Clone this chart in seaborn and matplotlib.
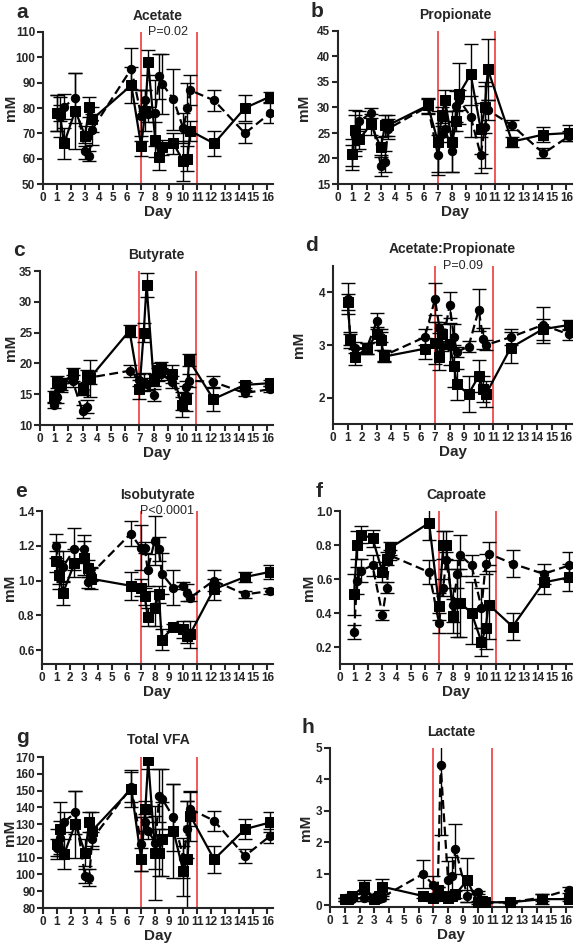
import numpy as np
import pandas as pd
import matplotlib
matplotlib.use("Agg")
import matplotlib.pyplot as plt
import seaborn as sns

# Sampling days shared by every panel
days = [1.0, 1.2, 1.5, 2.3, 3.0, 3.3, 3.5, 6.3, 7.0, 7.3, 7.5, 8.0, 8.3, 8.5,
        9.3, 10.0, 10.3, 10.5, 12.2, 14.4, 16.2]

# a - Acetate
acetate_sq = [78, 78, 66, 79, 69, 80.5, 75.5, 89, 65, 79, 98, 67.5, 60.5, 64.5, 66, 59, 60, 71, 66, 80, 84.5]
acetate_sq_err = [7, 3, 6, 15, 4, 4, 5, 7, 4, 8, 5, 7, 5, 3, 4, 8, 5, 4, 5, 5, 2]
acetate_ci = [78, 76.5, 80.5, 84, 63, 61, 71.5, 95.5, 77, 83, 77.5, 78, 92.5, 89.5, 83.5, 72, 80, 87, 83, 70, 78]
acetate_ci_err = [7, 8, 5, 10, 3, 2, 6, 8, 10, 4, 3, 13, 9, 12, 12, 6, 10, 6, 4, 4, 4]

# b - Propionate
propionate_sq = [20.8, 25.5, 23.8, 26.7, 22.2, 26.5, 26.5, 30.4, 23.3, 28.5, 31.4, 23.3, 27.3, 32.7, 36.5, 25.8, 30.0, 37.5, 23.3, 24.7, 25.0]
propionate_sq_err = [3, 4, 2, 2, 2, 2, 2, 1.5, 6, 1.5, 2, 6, 2, 6, 6, 5, 5, 6, 1, 1.5, 1.5]
propionate_ci = [20.6, 24.5, 27.3, 28.9, 18.6, 19.4, 25.8, 30.2, 20.7, 24.8, 25.8, 21.4, 30.2, 31.5, 28.2, 20.7, 26.2, 29.5, 26.5, 21.0, 24.4]
propionate_ci_err = [2, 4, 2, 1, 2, 2, 2, 1.5, 4, 1.5, 1.5, 4, 3, 2, 4, 3.5, 8, 2, 1, 1, 1]

# c - Butyrate
butyrate_sq = [14.6, 17.0, 16.7, 18.2, 15.8, 18.0, 17.6, 25.3, 15.8, 25.0, 32.7, 17.3, 19.0, 19.3, 18.3, 13.3, 14.3, 20.5, 14.2, 16.5, 16.8]
butyrate_sq_err = [1, 1, 1, 1, 1, 1, 3, 1, 1.5, 1.5, 2, 1, 1, 1, 1.5, 2, 2, 1, 2, 0.5, 0.5]
butyrate_ci = [13.2, 14.6, 16.3, 17.1, 12.2, 13.0, 17.7, 18.8, 17.3, 17.0, 16.7, 14.9, 18.2, 18.3, 17.0, 13.5, 16.2, 17.2, 17.0, 15.2, 15.8]
butyrate_ci_err = [0.5, 1, 1, 1, 1, 1, 1, 1, 1, 1.5, 1, 1, 1, 1, 1, 1, 1, 1, 1, 0.5, 0.5]

# d - Acetate:Propionate
ratio_sq = [3.82, 3.1, 2.77, 2.93, 3.2, 3.1, 2.78, 2.93, 3.03, 2.78, 3.2, 3.02, 2.6, 2.25, 2.07, 2.41, 2.17, 2.07, 2.95, 3.3, 3.38]
ratio_sq_err = [0.15, 0.15, 0.15, 0.1, 0.15, 0.2, 0.1, 0.2, 0.4, 0.25, 0.2, 0.4, 0.4, 0.3, 0.35, 0.3, 0.25, 0.25, 0.3, 0.2, 0.1]
ratio_ci = [3.88, 3.1, 2.95, 2.93, 3.45, 3.15, 2.8, 3.15, 3.87, 3.33, 2.98, 3.76, 3.15, 2.87, 2.97, 3.67, 3.12, 3.0, 3.15, 3.38, 3.2]
ratio_ci_err = [0.3, 0.1, 0.1, 0.1, 0.15, 0.1, 0.1, 0.15, 0.3, 0.1, 0.1, 0.25, 0.25, 0.1, 0.1, 0.4, 0.2, 0.1, 0.15, 0.35, 0.1]

# e - Isobutyrate
isobut_sq = [1.11, 1.03, 0.93, 1.1, 1.13, 1.07, 1.01, 0.97, 0.96, 0.91, 0.79, 0.84, 0.92, 0.66, 0.73, 0.72, 0.68, 0.69, 0.95, 1.02, 1.05]
isobut_sq_err = [0.06, 0.08, 0.07, 0.08, 0.1, 0.05, 0.06, 0.08, 0.05, 0.05, 0.05, 0.1, 0.05, 0.06, 0.02, 0.05, 0.04, 0.08, 0.06, 0.03, 0.04]
isobut_ci = [1.2, 1.1, 1.08, 1.18, 1.18, 0.99, 1.04, 1.27, 1.19, 1.19, 1.06, 1.23, 1.18, 1.04, 0.96, 0.97, 0.93, 0.9, 1.0, 0.92, 0.94]
isobut_ci_err = [0.07, 0.12, 0.09, 0.12, 0.08, 0.03, 0.04, 0.07, 0.13, 0.03, 0.09, 0.14, 0.07, 0.12, 0.1, 0.02, 0.05, 0.02, 0.06, 0.02, 0.02]

# f - Caproate
caproate_sq = [0.51, 0.8, 0.86, 0.84, 0.64, 0.72, 0.78, 0.93, 0.44, 0.8, 0.8, 0.38, 0.46, 0.46, 0.4, 0.23, 0.31, 0.45, 0.32, 0.58, 0.61]
caproate_sq_err = [0.12, 0.08, 0.05, 0.05, 0.06, 0.04, 0.04, 0.1, 0.08, 0.08, 0.08, 0.1, 0.2, 0.2, 0.18, 0.08, 0.12, 0.2, 0.08, 0.07, 0.08]
caproate_ci = [0.29, 0.59, 0.65, 0.68, 0.39, 0.55, 0.74, 0.64, 0.34, 0.55, 0.71, 0.45, 0.63, 0.74, 0.68, 0.43, 0.69, 0.75, 0.69, 0.63, 0.68]
caproate_ci_err = [0.04, 0.08, 0.07, 0.06, 0.03, 0.03, 0.03, 0.07, 0.06, 0.05, 0.05, 0.1, 0.08, 0.12, 0.06, 0.12, 0.06, 0.07, 0.08, 0.06, 0.08]

# g - Total VFA
vfa_sq = [118, 127, 112, 130, 113, 131, 126, 151, 109, 139, 168, 113, 113, 121, 126, 102, 109, 135, 109, 127, 131]
vfa_sq_err = [9, 16, 9, 20, 8, 6, 11, 11, 7, 5, 5, 28, 14, 22, 28, 15, 35, 15, 8, 6, 6]
vfa_ci = [116, 122, 131, 137, 99, 98, 121, 152, 118, 131, 126, 119, 147, 145, 134, 110, 127, 139, 132, 111, 123]
vfa_ci_err = [5, 10, 6, 13, 4, 5, 4, 9, 16, 5, 5, 16, 16, 18, 20, 12, 17, 10, 6, 4, 4]

# h - Lactate
lactate_sq = [0.2, 0.2, 0.3, 0.6, 0.2, 0.3, 0.6, 0.3, 0.25, 0.5, 0.3, 0.25, 0.3, 0.35, 0.8, 0.1, 0.15, 0.1, 0.1, 0.2, 0.2]
lactate_sq_err = [0.05, 0.05, 0.05, 0.2, 0.05, 0.1, 0.25, 0.05, 0.1, 0.1, 0.1, 0.05, 0.1, 0.1, 0.7, 0.05, 0.05, 0.02, 0.02, 0.15, 0.05]
lactate_ci = [0.2, 0.25, 0.2, 0.25, 0.25, 0.2, 0.25, 1.0, 0.65, 0.5, 4.45, 0.8, 0.95, 1.8, 0.3, 0.42, 0.15, 0.1, 0.1, 0.25, 0.5]
lactate_ci_err = [0.05, 0.05, 0.05, 0.1, 0.05, 0.05, 0.05, 0.45, 0.3, 0.1, 2.2, 0.6, 0.6, 0.8, 0.2, 0.05, 0.05, 0.02, 0.02, 0.1, 0.1]

titles = ["Acetate", "Propionate", "Butyrate", "Acetate:Propionate",
          "Isobutyrate", "Caproate", "Total VFA", "Lactate"]
letters = ["a", "b", "c", "d", "e", "f", "g", "h"]
p_values = ["P=0.02", None, None, "P=0.09", "P<0.0001", None, None, None]

sns.set_style("ticks")
plt.rcParams['font.family'] = ['Liberation Sans', 'DejaVu Sans']

fig = plt.figure(figsize=(5.74, 9.47), dpi=100)

W, H = 574, 947
# pixel boxes (left, top, right, bottom) and right edge of the "mM" label
boxes = [(43, 32, 273, 184), (338, 31, 572, 184),
         (40, 271, 273, 425), (333, 266, 572, 424),
         (42, 511, 273, 664), (340, 511, 572, 664),
         (43, 757, 273, 908), (330, 748, 572, 907)]
ylabel_x = [18, 311, 18, 306, 17, 316, 17, 313]

panels = [
    (acetate_sq, acetate_sq_err, acetate_ci, acetate_ci_err, (50, 110), np.arange(50, 111, 10), "{:.0f}"),
    (propionate_sq, propionate_sq_err, propionate_ci, propionate_ci_err, (15, 45), np.arange(15, 46, 5), "{:.0f}"),
    (butyrate_sq, butyrate_sq_err, butyrate_ci, butyrate_ci_err, (10, 35), np.arange(10, 36, 5), "{:.0f}"),
    (ratio_sq, ratio_sq_err, ratio_ci, ratio_ci_err, (1.5, 4.5), [2, 3, 4], "{:.0f}"),
    (isobut_sq, isobut_sq_err, isobut_ci, isobut_ci_err, (0.52, 1.4), [0.6, 0.8, 1.0, 1.2, 1.4], "{:.1f}"),
    (caproate_sq, caproate_sq_err, caproate_ci, caproate_ci_err, (0.1, 1.0), [0.2, 0.4, 0.6, 0.8, 1.0], "{:.1f}"),
    (vfa_sq, vfa_sq_err, vfa_ci, vfa_ci_err, (80, 170), np.arange(80, 171, 10), "{:.0f}"),
    (lactate_sq, lactate_sq_err, lactate_ci, lactate_ci_err, (-0.05, 5), [0, 1, 2, 3, 4, 5], "{:.0f}"),
]

for i, (sq, sq_err, ci, ci_err, ylim, yticks, fmt) in enumerate(panels):
    l, t, r, b = boxes[i]
    ax = fig.add_axes([l / W, 1 - b / H, (r - l) / W, (b - t) / H])

    ax.errorbar(days, sq, yerr=sq_err, fmt='none', ecolor='black',
                elinewidth=1, capsize=5, capthick=1, zorder=2)
    ax.errorbar(days, ci, yerr=ci_err, fmt='none', ecolor='black',
                elinewidth=1, capsize=5, capthick=1, zorder=2)
    sns.lineplot(x=days, y=sq, ax=ax, color='black', marker='s', markersize=6.5,
                 markeredgecolor='black', linewidth=1.6, zorder=3)
    sns.lineplot(x=days, y=ci, ax=ax, color='black', marker='o', markersize=6,
                 markeredgecolor='black', linewidth=1.6, linestyle=(0, (4, 2)), zorder=3)

    for xv in [7, 11]:
        ax.axvline(xv, color='#f04a4a', linewidth=1.3, zorder=1)

    ax.set_xlim(0, 16.4)
    ax.set_ylim(*ylim)
    ax.set_xticks(range(0, 17))
    ax.set_xticklabels([str(d) for d in range(0, 17)], fontsize=8.5, fontweight='bold')
    ax.set_yticks(yticks)
    ax.set_yticklabels([fmt.format(v) for v in yticks], fontsize=8.5, fontweight='bold')
    ax.set_xlabel("Day", fontsize=11, fontweight='bold', labelpad=1)
    ax.set_ylabel("mM", fontsize=11, fontweight='bold')
    ax.yaxis.set_label_coords((ylabel_x[i] - l) / (r - l), 0.5)
    ax.set_title(titles[i], fontsize=10, fontweight='bold', pad=9)
    ax.text(-0.09, 1.13, letters[i], transform=ax.transAxes, fontsize=15,
            fontweight='bold', ha='center', va='center')
    if p_values[i]:
        ax.text(8.9, ylim[1], p_values[i], fontsize=9, ha='center', va='center',
                transform=ax.transData)

    for side in ['top', 'right']:
        ax.spines[side].set_visible(False)
    for side in ['left', 'bottom']:
        ax.spines[side].set_linewidth(1.5)
    ax.tick_params(width=1.5, length=4, pad=1.5)
    ax.grid(False)

plt.savefig("out.png", dpi=100)
